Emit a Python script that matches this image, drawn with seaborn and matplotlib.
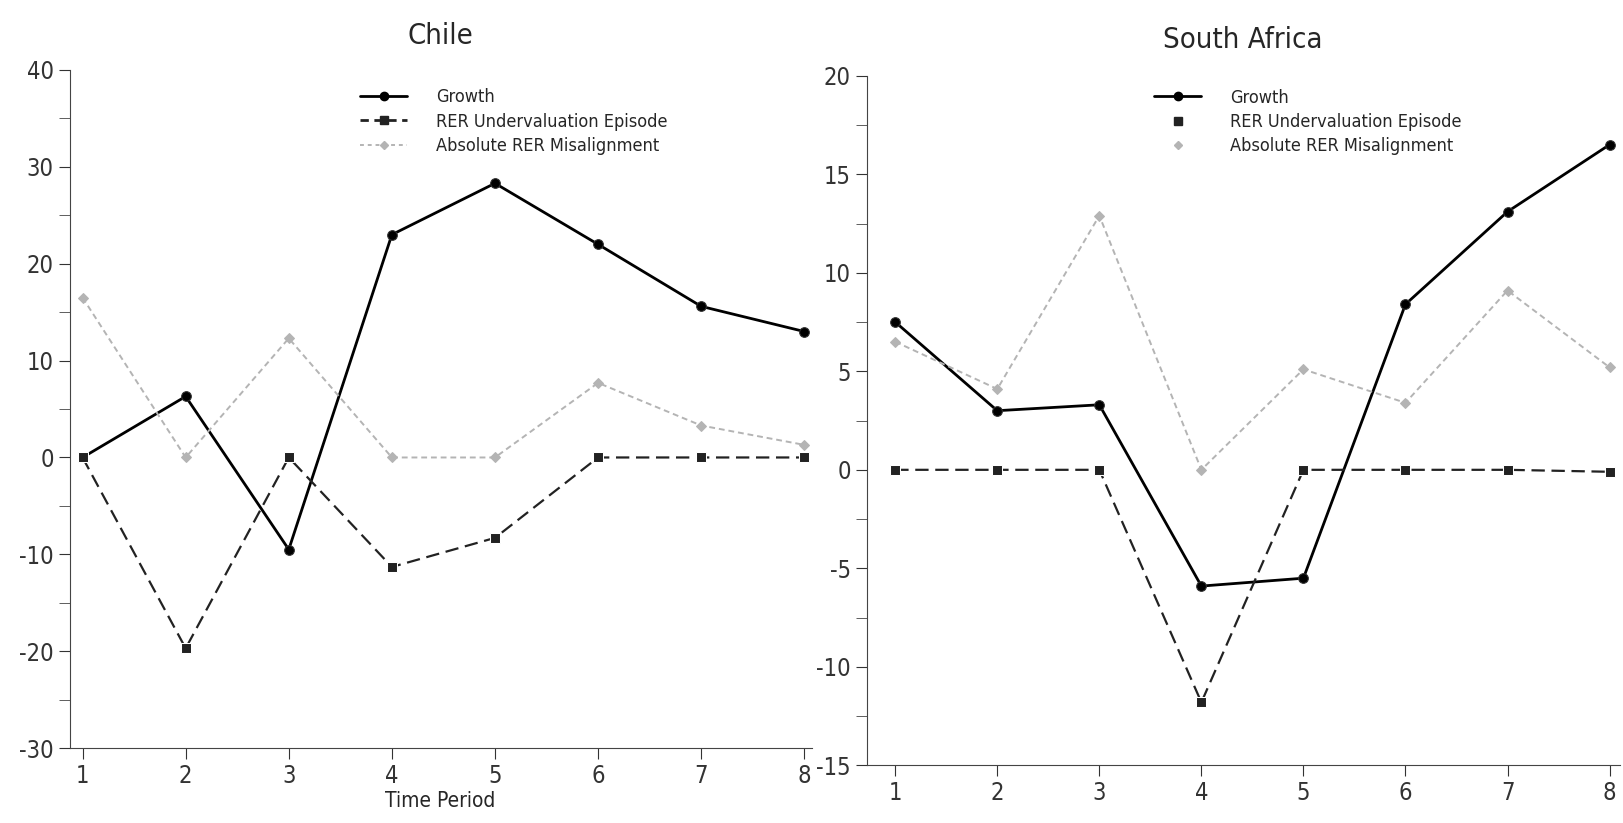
import numpy as np
import pandas as pd
import seaborn as sns
import matplotlib.pyplot as plt
from matplotlib.lines import Line2D
from matplotlib.ticker import MultipleLocator

# values
periods = [1, 2, 3, 4, 5, 6, 7, 8]

chile_growth = [0.0, 6.3, -9.5, 23.0, 28.3, 22.0, 15.6, 13.0]
chile_rer = [0.0, -19.7, 0.0, -11.3, -8.3, 0.0, 0.0, 0.0]
chile_abs = [16.5, 0.0, 12.3, 0.0, 0.0, 7.7, 3.3, 1.3]

sa_growth = [7.5, 3.0, 3.3, -5.9, -5.5, 8.4, 13.1, 16.5]
sa_rer = [0.0, 0.0, 0.0, -11.8, 0.0, 0.0, 0.0, -0.1]
sa_abs = [6.5, 4.1, 12.9, 0.0, 5.1, 3.4, 9.1, 5.2]

series_names = ["Growth", "RER Undervaluation Episode", "Absolute RER Misalignment"]

sns.set_style("ticks")
plt.rcParams['font.family'] = ['DejaVu Sans']
plt.rcParams['font.stretch'] = 'condensed'
plt.rcParams['axes.unicode_minus'] = False

fig = plt.figure(figsize=(16.23, 8.23), dpi=100)
ax1 = fig.add_axes([0.043, 0.091, 0.457, 0.824])
ax2 = fig.add_axes([0.534, 0.070, 0.464, 0.838])

gray = "#b4b4b4"


def draw(ax, growth, rer, absm):
    sns.lineplot(x=periods, y=growth, ax=ax, color="black", lw=2.0,
                 marker="o", markersize=7, markeredgecolor="#333333")
    sns.lineplot(x=periods, y=rer, ax=ax, color="#222222", lw=1.6,
                 linestyle=(0, (6, 3)), marker="s", markersize=7)
    sns.lineplot(x=periods, y=absm, ax=ax, color=gray, lw=1.4,
                 linestyle=(0, (3, 2)), marker="D", markersize=5,
                 markeredgecolor=gray)


draw(ax1, chile_growth, chile_rer, chile_abs)
draw(ax2, sa_growth, sa_rer, sa_abs)

for ax in (ax1, ax2):
    sns.despine(ax=ax)
    ax.spines['left'].set_color("#444444")
    ax.spines['bottom'].set_color("#444444")
    ax.tick_params(axis='both', labelsize=17, colors="#333333", length=8)
    ax.tick_params(axis='y', which='minor', length=8, color="#444444")
    ax.set_xticks(periods)

ax1.set_xlim(0.876, 8.07)
ax1.set_ylim(-30, 40)
ax1.yaxis.set_major_locator(MultipleLocator(10))
ax1.yaxis.set_minor_locator(MultipleLocator(5))
ax1.set_title("Chile", fontsize=21, pad=19)
ax1.set_xlabel("Time Period", fontsize=15, labelpad=2)

ax2.set_xlim(0.72, 8.1)
ax2.set_ylim(-15, 20)
ax2.yaxis.set_major_locator(MultipleLocator(5))
ax2.yaxis.set_minor_locator(MultipleLocator(2.5))
ax2.set_title("South Africa", fontsize=21, pad=20)

# legends
h_growth = Line2D([], [], color="black", lw=2.0, marker="o", markersize=6)
h_rer = Line2D([], [], color="#222222", lw=2.0, linestyle=(0, (3, 2)), marker="s", markersize=6)
h_abs = Line2D([], [], color=gray, lw=1.4, linestyle=(0, (2, 2)), marker="D", markersize=4)
ax1.legend([h_growth, h_rer, h_abs], series_names, loc="upper left",
           bbox_to_anchor=(0.37, 0.997), frameon=False, fontsize=13,
           handlelength=2.6, handletextpad=1.6, labelspacing=0.35)

h_rer2 = Line2D([], [], color="#222222", lw=0, marker="s", markersize=6)
h_abs2 = Line2D([], [], color=gray, lw=0, marker="D", markersize=4)
ax2.legend([h_growth, h_rer2, h_abs2], series_names, loc="upper left",
           bbox_to_anchor=(0.36, 1.005), frameon=False, fontsize=13,
           handlelength=2.6, handletextpad=1.6, labelspacing=0.35)

fig.savefig("out.png", dpi=100)
